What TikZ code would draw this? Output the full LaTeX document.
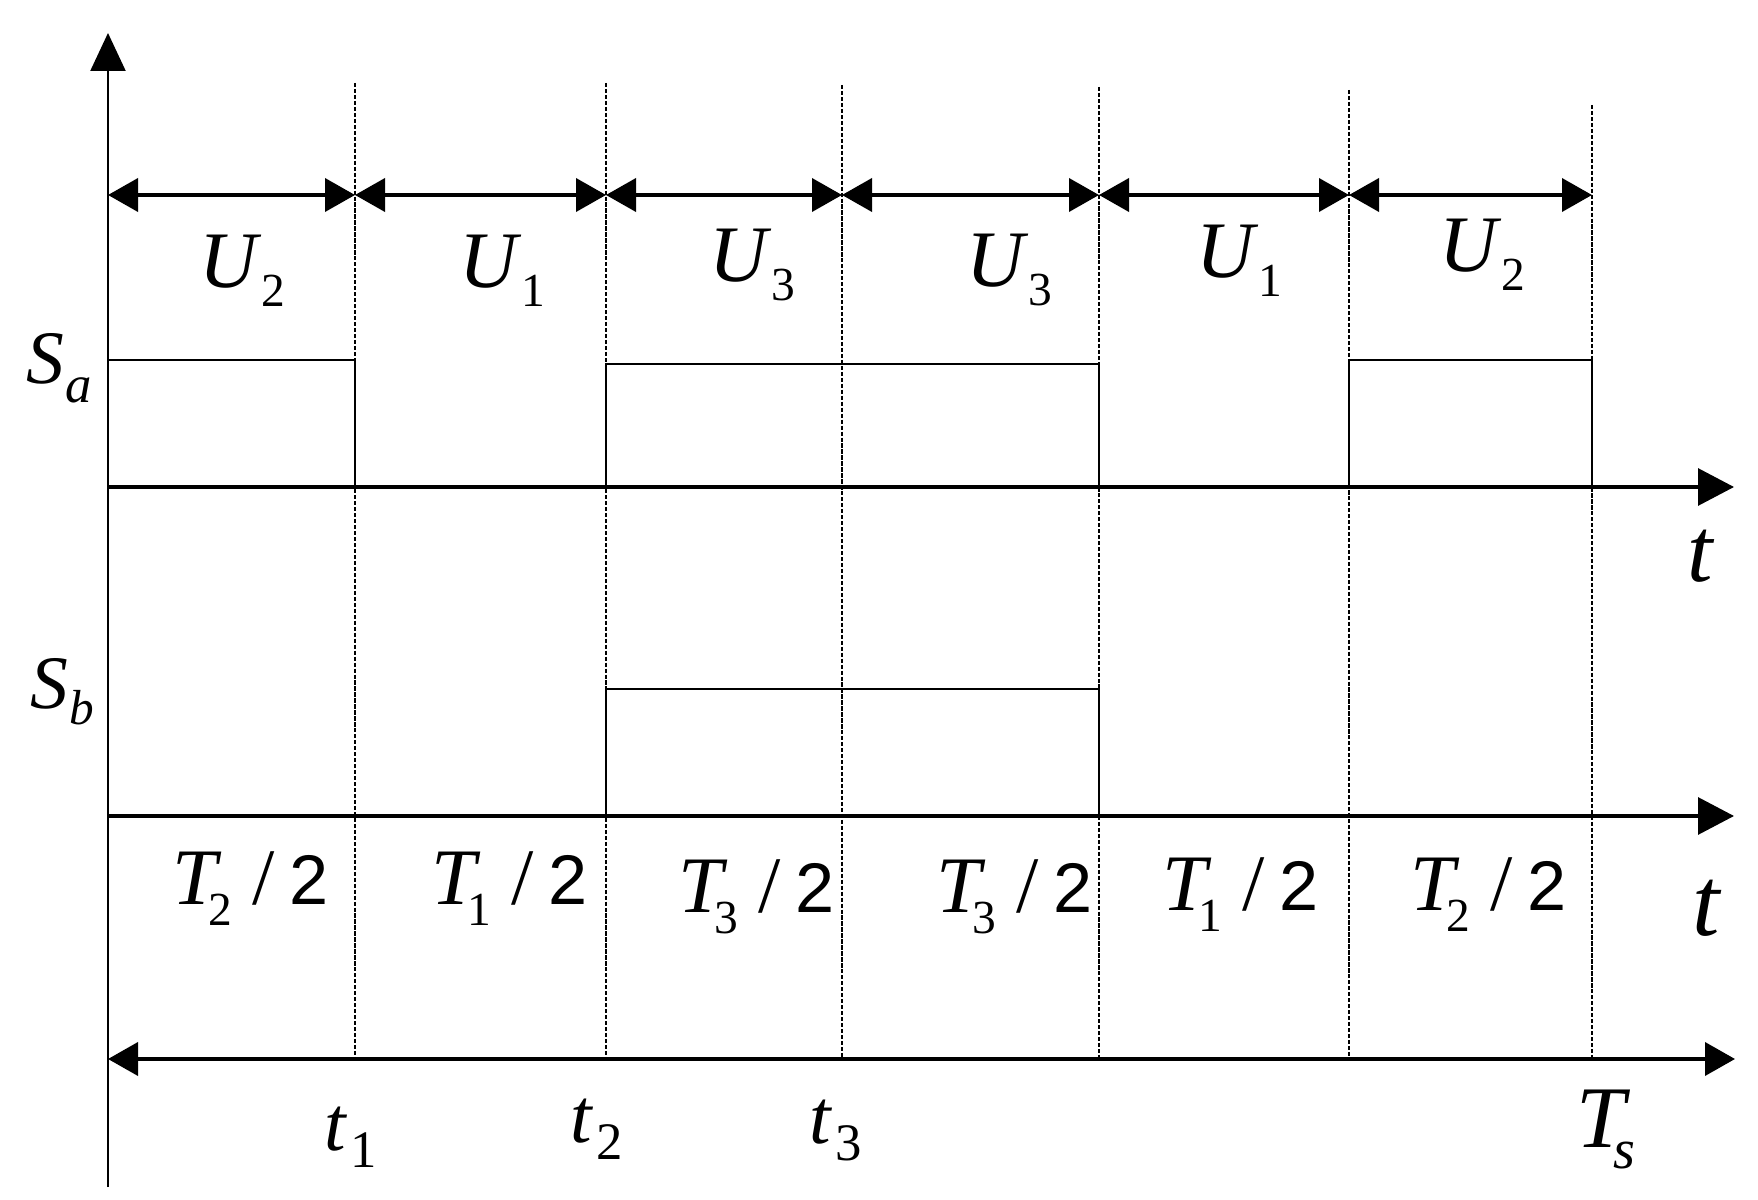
\documentclass[tikz,border=0pt]{standalone}
\usepackage{fontspec}
\setmainfont{Liberation Serif}[ItalicFont={Liberation Serif Italic}]
\newfontfamily\sansf{Liberation Sans}
\usetikzlibrary{arrows.meta}
\newcommand\myfs[1]{\fontsize{#1}{#1}\selectfont}
\newcommand\ulab[1]{{\myfs{22.8}\itshape U}\kern0.4mm\raisebox{-1.9mm}{\myfs{13.5}#1}}
\newcommand\tlab[1]{{\myfs{22.8}\itshape T}\kern-0.9mm\raisebox{-2.1mm}{\myfs{13.5}#1}\kern2.1mm{\myfs{22.8}/}\kern1.4mm{\sansf\myfs{20}2}}
\newcommand\smalltlab[1]{{\myfs{22}\itshape t}\kern0.4mm\raisebox{-1.7mm}{\myfs{15}#1}}
\begin{document}
\begin{tikzpicture}[x=0.1mm,y=-0.1mm,
  axisline/.style={line width=0.65pt},
  sigaxis/.style={line width=0.9pt,-{Triangle[length=3.6mm,width=3.7mm]}},
  dimarrow/.style={line width=1.1pt,{Triangle[length=3mm,width=3.3mm]}-{Triangle[length=3mm,width=3.3mm]}},
  gridline/.style={line width=0.35pt,dash pattern=on 1.2pt off 0.5pt},
  pulse/.style={line width=0.7pt},
  lab/.style={inner sep=0pt,anchor=base west}]
\useasboundingbox (0,0) rectangle (1758,1200);

% grid coordinates
\coordinate (O) at (108,1187);
\coordinate (Y) at (108,33);
\foreach \n/\x/\t in {1/355/83,2/606/83,3/842/85,4/1099/87,5/1349/90,6/1592/105}{
  \coordinate (g\n t) at (\x,\t);
  \coordinate (g\n b) at (\x,1060);
  \coordinate (d\n) at (\x,195);
  \coordinate (a\n) at (\x,487);
  \coordinate (b\n) at (\x,816);
}
\coordinate (d0) at (108,195);
\coordinate (a0) at (108,487);
\coordinate (b0) at (108,816);
\coordinate (aE) at (1734,487);
\coordinate (bE) at (1734,816);
\coordinate (c0) at (108,1059);
\coordinate (cE) at (1735,1059);

% dashed separators
\foreach \n in {1,...,6}{\draw[gridline] (g\n t) -- (g\n b);}

% vertical axis
\draw[axisline,-{Triangle[length=3.8mm,width=3.5mm]}] (O) -- (Y);

% top duration arrows
\draw[dimarrow] (d0) -- (d1);
\draw[dimarrow] (d1) -- (d2);
\draw[dimarrow] (d2) -- (d3);
\draw[dimarrow] (d3) -- (d4);
\draw[dimarrow] (d4) -- (d5);
\draw[dimarrow] (d5) -- (d6);

% Sa signal
\draw[sigaxis] (a0) -- (aE);
\coordinate (p1) at (108,360);
\coordinate (p2) at (355,360);
\coordinate (p3) at (606,364);
\coordinate (p4) at (1099,364);
\coordinate (p5) at (1349,360);
\coordinate (p6) at (1592,360);
\draw[pulse] (p1) -- (p2) -- (a1);
\draw[pulse] (a2) -- (p3) -- (p4) -- (a4);
\draw[pulse] (a5) -- (p5) -- (p6) -- (a6);

% Sb signal
\draw[sigaxis] (b0) -- (bE);
\coordinate (q1) at (606,689);
\coordinate (q2) at (1099,689);
\draw[pulse] (b2) -- (q1) -- (q2) -- (b4);

% bottom period arrow
\draw[dimarrow] (c0) -- (cE);

% U labels
\node[lab] (u1) at (199,288) {\ulab{2}};
\node[lab] (u2) at (459,288) {\ulab{1}};
\node[lab] (u3) at (709,282) {\ulab{3}};
\node[lab] (u4) at (966,287) {\ulab{3}};
\node[lab] (u5) at (1196,278) {\ulab{1}};
\node[lab] (u6) at (1439,272) {\ulab{2}};

% S labels
\node[lab] (sa) at (26,383) {{\myfs{21.5}\itshape S}\kern0.1mm\raisebox{-1.9mm}{\myfs{15}\itshape a}};
\node[lab] (sb) at (30,709) {{\myfs{21.5}\itshape S}\kern0.1mm\raisebox{-1.6mm}{\myfs{14}\itshape b}};

% axis t labels
\node[lab] (ta) at (1687,581) {\myfs{26}\itshape t};
\node[lab] (tb) at (1692,935) {\myfs{28}\itshape t};

% T labels
\node[lab] (T1) at (172,905) {\tlab{2}};
\node[lab] (T2) at (431,905) {\tlab{1}};
\node[lab] (T3) at (678,912) {\tlab{3}};
\node[lab] (T4) at (936,912) {\tlab{3}};
\node[lab] (T5) at (1162,910) {\tlab{1}};
\node[lab] (T6) at (1410,910) {\tlab{2}};

% time marks
\node[lab] (t1) at (324,1150) {\smalltlab{1}};
\node[lab] (t2) at (570,1142) {\smalltlab{2}};
\node[lab] (t3) at (809,1143) {\smalltlab{3}};
\node[lab] (ts) at (1576,1147) {{\myfs{25}\itshape T}\kern-1.2mm\raisebox{-2.1mm}{\myfs{16}\itshape s}};
\end{tikzpicture}
\end{document}
